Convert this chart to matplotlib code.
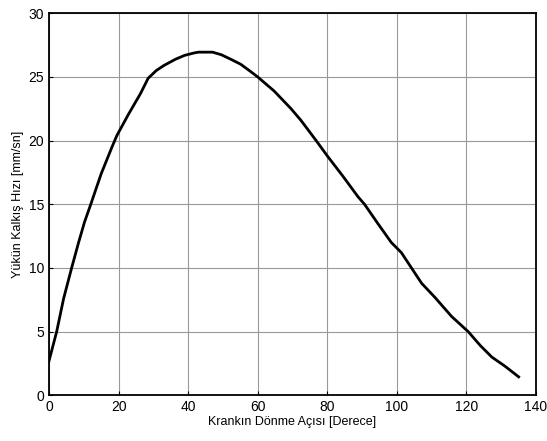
import matplotlib
matplotlib.use("Agg")
import matplotlib.pyplot as plt

# values
angle = [0, 2.2, 4.2, 6.5, 8.5, 10.2, 12.0, 15.0, 18.1, 19.5, 22.9, 24.6,
         26.3, 28.5, 30.8, 33.0, 36.4, 39.0, 41.9, 43.0, 47.0, 49.5, 52.2,
         55.1, 57.6, 60.0, 64.7, 69.6, 72.4, 76.8, 80.0, 84.5, 88.8, 90.7,
         94.5, 98.4, 101.3, 104.2, 107.1, 110.9, 115.7, 120.5, 124.0, 127.3,
         131.0, 135.0]
speed = [2.7, 5.0, 7.6, 10.0, 12.0, 13.6, 15.0, 17.4, 19.5, 20.4, 22.1, 22.9,
         23.7, 24.9, 25.5, 25.9, 26.4, 26.7, 26.9, 26.95, 26.95, 26.75, 26.4,
         26.0, 25.5, 25.0, 23.9, 22.5, 21.6, 20.0, 18.8, 17.2, 15.6, 15.0,
         13.5, 12.0, 11.2, 10.0, 8.8, 7.7, 6.2, 5.0, 3.9, 3.0, 2.3, 1.45]

xticks = [0, 20, 40, 60, 80, 100, 120, 140]
yticks = [0, 5, 10, 15, 20, 25, 30]

plt.rcParams['font.family'] = ['Liberation Sans', 'DejaVu Sans']

fig = plt.figure(figsize=(5.47, 4.41), dpi=100, facecolor='white')
ax = fig.add_axes([0.0896, 0.1036, 0.8904, 0.8662])

ax.plot(angle, speed, color='black', linewidth=2)

ax.set_xlim(0, 140)
ax.set_ylim(0, 30)
ax.set_xticks(xticks)
ax.set_yticks(yticks)
ax.tick_params(direction='in', length=3, labelsize=10, colors='black')
ax.grid(True, color='#999999', linewidth=0.8, linestyle='-')
ax.set_axisbelow(True)
for s in ax.spines.values():
    s.set_linewidth(1.3)

ax.set_xlabel("Krankın Dönme Açısı [Derece]", fontsize=9, labelpad=1)
ax.set_ylabel("Yükün Kalkış Hızı [mm/sn]", fontsize=9, labelpad=3)

fig.savefig("out.png", dpi=100)
